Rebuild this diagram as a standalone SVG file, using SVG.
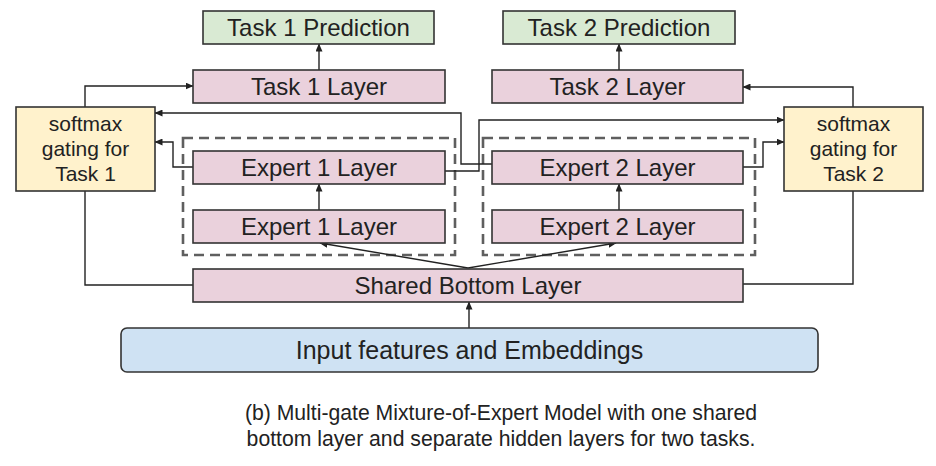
<svg xmlns="http://www.w3.org/2000/svg" width="936" height="466" viewBox="0 0 936 466">
  <defs>
    <marker id="arrow" markerUnits="userSpaceOnUse" markerWidth="8" markerHeight="7" refX="7.5" refY="3.5" orient="auto">
      <path d="M0,0 L8,3.5 L0,7 z" fill="#222"/>
    </marker>
    <style>
      .box { stroke: #333; stroke-width: 1.6; }
      .layer { fill: #ead1dc; }
      .pred { fill: #d9ead3; }
      .gate { fill: #fff2cc; }
      .input { fill: #cfe2f3; }
      .group { fill: none; stroke: #5f5f5f; stroke-width: 2.6; stroke-dasharray: 10 6; }
      .lbl { font-family: "Liberation Sans", Arial, sans-serif; font-size: 24px; fill: #222; text-anchor: middle; }
      .gl { font-family: "Liberation Sans", Arial, sans-serif; font-size: 21px; fill: #222; text-anchor: middle; }
      .cap { font-family: "Liberation Sans", Arial, sans-serif; font-size: 21.2px; fill: #222; text-anchor: middle; }
      .edge { fill: none; stroke: #222; stroke-width: 1.4; }
      .arr { marker-end: url(#arrow); }
    </style>
  </defs>

  <rect width="936" height="466" fill="#ffffff"/>

  <!-- expert groups (dashed outlines) -->
  <g id="expert-group-1"><rect class="group" x="183" y="138" width="272" height="117"/></g>
  <g id="expert-group-2"><rect class="group" x="483" y="138" width="272" height="117"/></g>

  <!-- connectors -->
  <g id="connectors">
    <path class="edge arr" d="M319,70 V44"/>
    <path class="edge arr" d="M619,70 V44"/>
    <path class="edge arr" d="M85,107 V86 H193"/>
    <path class="edge arr" d="M853,107 V87 H743"/>
    <path class="edge" d="M193,285 H85 V191"/>
    <path class="edge" d="M743,284 H853 V191"/>
    <path class="edge arr" d="M193,167 H173 V142 H155"/>
    <path class="edge arr" d="M743,167 H763 V142 H784"/>
    <path class="edge arr" d="M492,164 H461 V113 H155"/>
    <path class="edge arr" d="M445,171 H479 V120 H784"/>
    <path class="edge arr" d="M319,210 V184"/>
    <path class="edge arr" d="M619,210 V184"/>
    <path class="edge arr" d="M468,268 L320,243"/>
    <path class="edge arr" d="M468,268 L616,243"/>
    <path class="edge arr" d="M469,328 V302"/>
  </g>

  <g id="task1-prediction">
    <rect class="box pred" x="203" y="11" width="231" height="33"/>
    <text class="lbl" x="318.5" y="36">Task 1 Prediction</text>
  </g>
  <g id="task2-prediction">
    <rect class="box pred" x="503" y="11" width="232" height="33"/>
    <text class="lbl" x="619" y="36">Task 2 Prediction</text>
  </g>

  <g id="task1-layer">
    <rect class="box layer" x="193" y="70" width="252" height="33"/>
    <text class="lbl" x="319" y="95">Task 1 Layer</text>
  </g>
  <g id="task2-layer">
    <rect class="box layer" x="492" y="70" width="251" height="33"/>
    <text class="lbl" x="617.5" y="95">Task 2 Layer</text>
  </g>

  <g id="gate1">
    <rect class="box gate" x="16" y="107" width="139" height="84"/>
    <text class="gl" x="85.5" y="131">softmax</text>
    <text class="gl" x="85.5" y="156">gating for</text>
    <text class="gl" x="85.5" y="181">Task 1</text>
  </g>
  <g id="gate2">
    <rect class="box gate" x="784" y="107" width="139" height="84"/>
    <text class="gl" x="853.5" y="131">softmax</text>
    <text class="gl" x="853.5" y="156">gating for</text>
    <text class="gl" x="853.5" y="181">Task 2</text>
  </g>

  <g id="expert1-top">
    <rect class="box layer" x="193" y="151" width="252" height="33"/>
    <text class="lbl" x="319" y="176">Expert 1 Layer</text>
  </g>
  <g id="expert1-bottom">
    <rect class="box layer" x="193" y="210" width="252" height="33"/>
    <text class="lbl" x="319" y="235">Expert 1 Layer</text>
  </g>
  <g id="expert2-top">
    <rect class="box layer" x="492" y="151" width="251" height="33"/>
    <text class="lbl" x="617.5" y="176">Expert 2 Layer</text>
  </g>
  <g id="expert2-bottom">
    <rect class="box layer" x="492" y="210" width="251" height="33"/>
    <text class="lbl" x="617.5" y="235">Expert 2 Layer</text>
  </g>

  <g id="shared-bottom">
    <rect class="box layer" x="193" y="269" width="550" height="33"/>
    <text class="lbl" x="468" y="294">Shared Bottom Layer</text>
  </g>

  <g id="input">
    <rect class="box input" x="121" y="328" width="697" height="44" rx="6"/>
    <text class="lbl" x="469.5" y="359" style="font-size:25px">Input features and Embeddings</text>
  </g>

  <g id="caption">
    <text class="cap" x="501" y="420">(b) Multi-gate Mixture-of-Expert Model with one shared</text>
    <text class="cap" x="501" y="446">bottom layer and separate hidden layers for two tasks.</text>
  </g>
</svg>
